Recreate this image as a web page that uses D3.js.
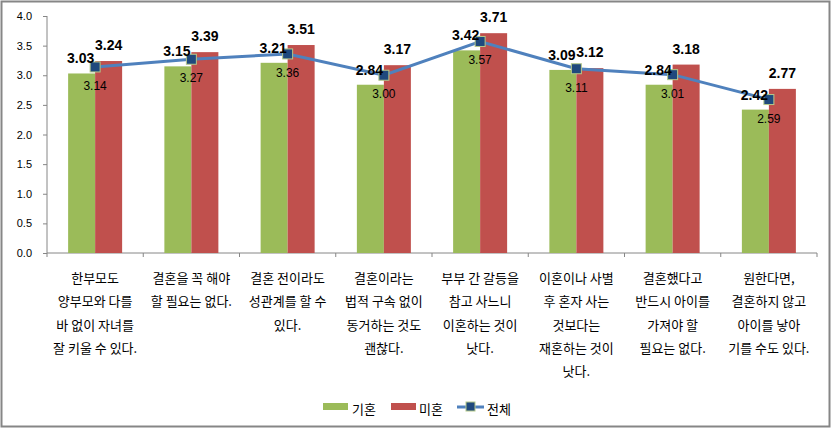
<!DOCTYPE html>
<html>
<head>
    <meta charset="utf-8">
    <style>
        body { margin: 0; background: #fff; }
        text { font-family: "Liberation Sans", Arial, sans-serif; }
        .kr { font-family: "Noto Sans CJK KR", "Noto Sans", sans-serif; }
    </style>
    <script src="https://d3js.org/d3.v7.min.js"></script>
</head>
<body>
    <svg width="833" height="429"></svg>
    <script>

        // data
        var categories = [
            ["한부모도", "양부모와 다를", "바 없이 자녀를", "잘 키울 수 있다."],
            ["결혼을 꼭 해야", "할 필요는 없다."],
            ["결혼 전이라도", "성관계를 할 수", "있다."],
            ["결혼이라는", "법적 구속 없이", "동거하는 것도", "괜찮다."],
            ["부부 간 갈등을", "참고 사느니", "이혼하는 것이", "낫다."],
            ["이혼이나 사별", "후 혼자 사는", "것보다는", "재혼하는 것이", "낫다."],
            ["결혼했다고", "반드시 아이를", "가져야 할", "필요는 없다."],
            ["원한다면,", "결혼하지 않고", "아이를 낳아", "기를 수도 있다."]
        ];
        var married   = [3.03, 3.15, 3.21, 2.84, 3.42, 3.09, 2.84, 2.42];  // 기혼
        var unmarried = [3.24, 3.39, 3.51, 3.17, 3.71, 3.12, 3.18, 2.77];  // 미혼
        var total     = [3.14, 3.27, 3.36, 3.00, 3.57, 3.11, 3.01, 2.59];  // 전체
        var yTicks = [0, 0.5, 1, 1.5, 2, 2.5, 3, 3.5, 4];

        var svg = d3.select("svg");

        // outer frame
        svg.append("rect")
            .attr("x", 1.5).attr("y", 1.5)
            .attr("width", 828).attr("height", 425)
            .attr("fill", "none").attr("stroke", "#868686").attr("stroke-width", 2);

        var plotL = 47, plotR = 817, plotT = 16, plotB = 253;

        var x = d3.scaleBand().domain(d3.range(categories.length)).range([plotL, plotR]);
        var y = d3.scaleLinear().domain([0, 4]).range([plotB, plotT]);
        var barW = 27;

        // y axis
        var yAxis = svg.append("g")
            .attr("transform", "translate(" + plotL + ",0)")
            .call(d3.axisLeft(y).tickValues(yTicks).tickSize(4).tickPadding(11)
                .tickFormat(d3.format(".1f")));
        yAxis.select(".domain").attr("stroke", "#868686").attr("d", "M0," + plotT + "V" + plotB);
        yAxis.selectAll(".tick line").attr("stroke", "#868686");
        yAxis.selectAll(".tick text").attr("font-size", 11).attr("fill", "#000")
            .attr("font-family", "'Liberation Sans', Arial, sans-serif");

        // x axis line and ticks between categories
        var xg = svg.append("g");
        xg.append("line")
            .attr("x1", plotL).attr("x2", plotR).attr("y1", plotB).attr("y2", plotB)
            .attr("stroke", "#868686");
        xg.selectAll(".xt")
            .data(d3.range(categories.length + 1))
            .enter().append("line")
            .attr("x1", function(i) { return plotL + i * x.bandwidth(); })
            .attr("x2", function(i) { return plotL + i * x.bandwidth(); })
            .attr("y1", plotB).attr("y2", plotB + 4)
            .attr("stroke", "#868686");

        // bars
        svg.selectAll(".bar1")
            .data(married)
            .enter().append("rect")
            .attr("x", function(d, i) { return x(i) + x.bandwidth() / 2 - barW; })
            .attr("y", function(d) { return y(d); })
            .attr("width", barW)
            .attr("height", function(d) { return plotB - y(d); })
            .attr("fill", "#9BBB59");

        svg.selectAll(".bar2")
            .data(unmarried)
            .enter().append("rect")
            .attr("x", function(d, i) { return x(i) + x.bandwidth() / 2; })
            .attr("y", function(d) { return y(d); })
            .attr("width", barW)
            .attr("height", function(d) { return plotB - y(d); })
            .attr("fill", "#C0504D");

        // line for total
        var line = d3.line()
            .x(function(d, i) { return x(i) + x.bandwidth() / 2; })
            .y(function(d) { return y(d); });

        svg.append("path")
            .datum(total)
            .attr("d", line)
            .attr("fill", "none")
            .attr("stroke", "#4F81BD")
            .attr("stroke-width", 3);

        svg.selectAll(".mk")
            .data(total)
            .enter().append("rect")
            .attr("x", function(d, i) { return x(i) + x.bandwidth() / 2 - 5; })
            .attr("y", function(d) { return y(d) - 5; })
            .attr("width", 10).attr("height", 10)
            .attr("fill", "#1F497D")
            .attr("stroke", "#B5C98A")
            .attr("stroke-width", 1);

        // value labels
        svg.selectAll(".lb1")
            .data(married)
            .enter().append("text")
            .attr("x", function(d, i) { return x(i) + x.bandwidth() / 2 - barW / 2 - 1; })
            .attr("y", function(d) { return y(d) - 10; })
            .attr("text-anchor", "middle")
            .attr("font-size", 14).attr("font-weight", "bold")
            .text(function(d) { return d.toFixed(2); });

        svg.selectAll(".lb2")
            .data(unmarried)
            .enter().append("text")
            .attr("x", function(d, i) { return x(i) + x.bandwidth() / 2 + barW / 2; })
            .attr("y", function(d) { return y(d) - 11; })
            .attr("text-anchor", "middle")
            .attr("font-size", 14).attr("font-weight", "bold")
            .text(function(d) { return d.toFixed(2); });

        svg.selectAll(".lb3")
            .data(total)
            .enter().append("text")
            .attr("x", function(d, i) { return x(i) + x.bandwidth() / 2; })
            .attr("y", function(d) { return y(d) + 23; })
            .attr("text-anchor", "middle")
            .attr("font-size", 12)
            .text(function(d) { return d.toFixed(2); });

        // category labels
        var cat = svg.selectAll(".cat")
            .data(categories)
            .enter().append("text")
            .attr("class", "kr")
            .attr("text-anchor", "middle")
            .attr("font-size", 13)
            .attr("fill", "#000");
        cat.selectAll("tspan")
            .data(function(d, i) { return d.map(function(s) { return { s: s, i: i }; }); })
            .enter().append("tspan")
            .attr("x", function(d) { return x(d.i) + x.bandwidth() / 2; })
            .attr("y", function(d, j) { return 283 + j * 23.3; })
            .text(function(d) { return d.s; });

        // legend
        var legend = svg.append("g").attr("class", "kr");
        legend.append("rect").attr("x", 323).attr("y", 403).attr("width", 25).attr("height", 7).attr("fill", "#9BBB59");
        legend.append("text").attr("x", 352).attr("y", 414).attr("font-size", 13).attr("class", "kr").text("기혼");
        legend.append("rect").attr("x", 391).attr("y", 403).attr("width", 25).attr("height", 7).attr("fill", "#C0504D");
        legend.append("text").attr("x", 419).attr("y", 414).attr("font-size", 13).attr("class", "kr").text("미혼");
        legend.append("line").attr("x1", 457).attr("x2", 484).attr("y1", 407).attr("y2", 407)
            .attr("stroke", "#4F81BD").attr("stroke-width", 3);
        legend.append("rect").attr("x", 466).attr("y", 402).attr("width", 9).attr("height", 9)
            .attr("fill", "#1F497D").attr("stroke", "#B5C98A");
        legend.append("text").attr("x", 487).attr("y", 414).attr("font-size", 13).attr("class", "kr").text("전체");

    </script>
</body>
</html>
